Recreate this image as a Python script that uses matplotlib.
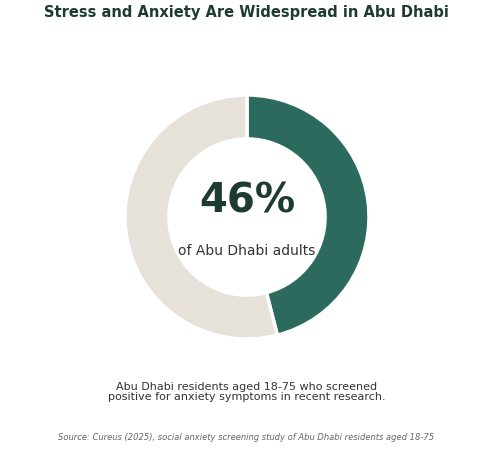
import matplotlib.pyplot as plt

# data
labels = ['Screened positive', 'Other']
shares = [46, 54]
colors = ['#2d6a5e', '#e6e2d9']

title = 'Stress and Anxiety Are Widespread in Abu Dhabi'
big_text = '46%'
sub_text = 'of Abu Dhabi adults'
caption = 'Abu Dhabi residents aged 18-75 who screened\npositive for anxiety symptoms in recent research.'
source = 'Source: Cureus (2025), social anxiety screening study of Abu Dhabi residents aged 18-75'

W, H = 493, 454
fig = plt.figure(figsize=(W / 100, H / 100), dpi=100)

# donut axes: center (247, 217) px, radius 122 px
cx, cy, r = 247, 217, 122
ax = fig.add_axes([(cx - r) / W, (H - cy - r) / H, 2 * r / W, 2 * r / H])
ax.pie(shares, colors=colors, startangle=90, counterclock=False, radius=1,
       wedgeprops=dict(width=0.36, edgecolor='white', linewidth=2.5))
ax.set_xlim(-1, 1)
ax.set_ylim(-1, 1)
ax.set_aspect('equal')
ax.axis('off')

ax.text(0, 0.13, big_text, ha='center', va='center', fontsize=29,
        fontweight='bold', color='#1d3b33')
ax.text(0, -0.28, sub_text, ha='center', va='center', fontsize=10,
        color='#333333')

fig.text(0.5, 1 - 12 / H, title, ha='center', va='center', fontsize=10.5,
         fontweight='bold', color='#1d3b33')
fig.text(0.5, 1 - 392 / H, caption, ha='center', va='center', fontsize=8.0,
         color='#333333', linespacing=1.12)
fig.text(0.5, 1 - 437 / H, source, ha='center', va='center', fontsize=6.05,
         style='italic', color='#666666')

fig.savefig('out.png', dpi=100)
